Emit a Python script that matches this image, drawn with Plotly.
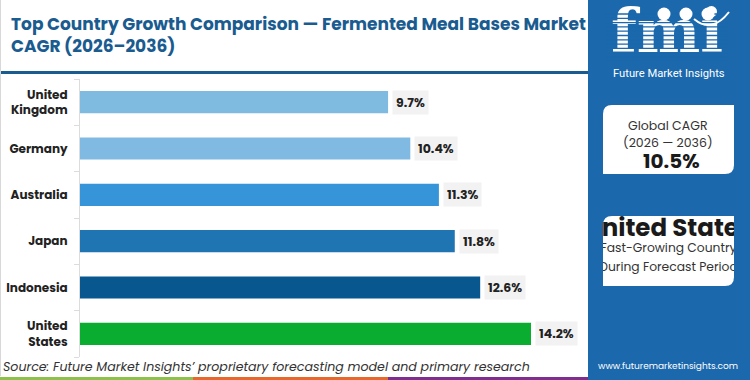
import plotly.graph_objects as go

# ---------------- data ----------------
countries = ["United Kingdom", "Germany", "Australia", "Japan", "Indonesia", "United States"]
tick_labels = ["United<br>Kingdom", "Germany", "Australia", "Japan", "Indonesia", "United<br>States"]
cagr = [9.7, 10.4, 11.3, 11.8, 12.6, 14.2]
bar_colors = ["#7fbbe1", "#80bae2", "#3595d8", "#1f75b2", "#09578f", "#0aad30"]

title_text = "Top Country Growth Comparison — Fermented Meal Bases Market<br>CAGR (2026–2036)"
source_text = "Source: Future Market Insights’ proprietary forecasting model and primary research"
global_cagr_label = ["Global CAGR", "(2026 — 2036)"]
global_cagr_value = "10.5%"
lead_country = "United States"
lead_caption = ["Fast-Growing Country", "During Forecast Period"]
brand = "Future Market Insights"
website = "www.futuremarketinsights.com"

W, H = 750, 380
PANEL = "#1b68ac"
TITLE_BLUE = "#1a5b90"
FONT = "Poppins, Inter, Open Sans, sans-serif"


def px(x):
    return x / W


def py(y):
    return 1 - y / H


fig = go.Figure()

fig.add_trace(go.Bar(
    x=cagr, y=countries, orientation="h",
    marker=dict(color=bar_colors, line=dict(width=0)),
    width=0.48, hoverinfo="skip", showlegend=False,
))

annotations = []
for c, v in zip(countries, cagr):
    annotations.append(dict(
        x=v, y=c, xref="x", yref="y", text=f"<b>{v}%</b>", showarrow=False,
        xanchor="left", yanchor="middle", xshift=4,
        font=dict(family=FONT, size=12.5, color="#222"),
        bgcolor="#f2f2f2", borderpad=3,
    ))

# title
annotations.append(dict(
    x=px(9), y=py(10), xref="paper", yref="paper", xanchor="left", yanchor="top",
    text=f"<b>{title_text}</b>", showarrow=False, align="left",
    font=dict(family=FONT, size=17, color=TITLE_BLUE),
))
# source
annotations.append(dict(
    x=px(1), y=py(366), xref="paper", yref="paper", xanchor="left", yanchor="middle",
    text=f"<i>{source_text}</i>", showarrow=False,
    font=dict(family=FONT, size=12.6, color="#333"),
))
# brand
annotations.append(dict(
    x=px(669), y=py(73), xref="paper", yref="paper", xanchor="center", yanchor="middle",
    text=brand, showarrow=False, font=dict(family="Roboto, sans-serif", size=11.2, color="white"),
))
annotations.append(dict(
    x=px(668), y=py(366), xref="paper", yref="paper", xanchor="center", yanchor="middle",
    text=website, showarrow=False, font=dict(family=FONT, size=9, color="white"),
))
# global CAGR box texts
annotations.append(dict(
    x=px(668), y=py(126), xref="paper", yref="paper", xanchor="center", yanchor="middle",
    text=global_cagr_label[0], showarrow=False, font=dict(family=FONT, size=12.5, color="#333"),
))
annotations.append(dict(
    x=px(668), y=py(143), xref="paper", yref="paper", xanchor="center", yanchor="middle",
    text=global_cagr_label[1], showarrow=False, font=dict(family=FONT, size=12.5, color="#333"),
))
annotations.append(dict(
    x=px(671), y=py(161), xref="paper", yref="paper", xanchor="center", yanchor="middle",
    text=f"<b>{global_cagr_value}</b>", showarrow=False, font=dict(family=FONT, size=20, color="#1a1a1a"),
))

# lead country box: clipped text via its own subplot
fig.add_trace(go.Scatter(
    x=[0.5, 0.5, 0.5], y=[230, 249, 268], mode="text",
    text=[f"<b>{lead_country}</b>", lead_caption[0], lead_caption[1]],
    textfont=dict(family=FONT, size=[24.5, 12.3, 12.3], color=["#1a1a1a", "#333", "#333"]),
    textposition="middle center", cliponaxis=True, hoverinfo="skip", showlegend=False,
    xaxis="x2", yaxis="y2",
))

# logo text in its own subplot so stripes can overlay it
fig.add_trace(go.Scatter(
    x=[0.5], y=[0.5], mode="text", text=["<b>fmi</b>"],
    textfont=dict(family="DejaVu Serif, serif", size=60, color="white"),
    textposition="middle center", cliponaxis=False, hoverinfo="skip", showlegend=False,
    xaxis="x3", yaxis="y3",
))

shapes = []
# panel
shapes.append(dict(type="rect", xref="paper", yref="paper", x0=px(588), x1=1, y0=0, y1=1,
                   fillcolor=PANEL, line=dict(width=0), layer="below"))
# title rule
shapes.append(dict(type="line", xref="paper", yref="paper", x0=0, x1=px(588), y0=py(72.5), y1=py(72.5),
                   line=dict(color=TITLE_BLUE, width=3), layer="below"))
# left border
shapes.append(dict(type="line", xref="paper", yref="paper", x0=px(0.5), x1=px(0.5), y0=py(376), y1=1,
                   line=dict(color="#d8d8d8", width=1), layer="below"))
# bottom strip
for x0, x1, col in [(0, 193, "#8dc24a"), (193, 388, "#e8672a"), (388, 588, "#7e2f8e")]:
    shapes.append(dict(type="rect", xref="paper", yref="paper", x0=px(x0), x1=px(x1), y0=0, y1=py(377),
                       fillcolor=col, line=dict(width=0), layer="below"))


def box_path(x0, y0, x1, y1, r):
    X0, X1 = px(x0), px(x1)
    Y0, Y1 = py(y0), py(y1)
    rx, ry = r / W, r / H
    # top-left and bottom-right rounded
    return (f"M {X0},{Y0 - ry} Q {X0},{Y0} {X0 + rx},{Y0} L {X1},{Y0} L {X1},{Y1 + ry} "
            f"Q {X1},{Y1} {X1 - rx},{Y1} L {X0},{Y1} Z")


shapes.append(dict(type="path", xref="paper", yref="paper", path=box_path(603, 105, 734, 174, 9),
                   fillcolor="white", line=dict(width=0), layer="below"))
shapes.append(dict(type="path", xref="paper", yref="paper", path=box_path(603, 216, 734, 286, 9),
                   fillcolor="white", line=dict(width=0), layer="below"))

# logo stripes
yy = 14.0
while yy < 64:
    shapes.append(dict(type="line", xref="paper", yref="paper", x0=px(606), x1=px(728), y0=py(yy), y1=py(yy),
                       line=dict(color=PANEL, width=1.3), layer="above"))
    yy += 4.3
# logo icons
for cx in [664, 686, 708]:
    shapes.append(dict(type="circle", xref="paper", yref="paper", x0=px(cx - 6.5), x1=px(cx + 6.5),
                       y0=py(20.5), y1=py(7.5), fillcolor="white", line=dict(width=0), layer="above"))
shapes.append(dict(type="path", xref="paper", yref="paper",
                   path=f"M {px(694)},{py(19)} Q {px(712)},{py(34)} {px(729)},{py(12)}",
                   line=dict(color="white", width=2), layer="above"))

fig.update_layout(
    width=W, height=H, autosize=False,
    margin=dict(l=0, r=0, t=0, b=0),
    paper_bgcolor="white", plot_bgcolor="rgba(0,0,0,0)",
    showlegend=False,
    xaxis=dict(domain=[px(80), px(585)], range=[0, 15.9], visible=False, fixedrange=True),
    yaxis=dict(domain=[py(357), py(79)], type="category", categoryorder="array",
               categoryarray=countries, autorange="reversed",
               tickvals=countries, ticktext=tick_labels,
               showline=True, linecolor="#dcdcdc", linewidth=1,
               ticks="outside", tickson="boundaries", ticklen=5, tickcolor="#dcdcdc",
               ticklabelstandoff=9,
               showgrid=False, zeroline=False,
               tickfont=dict(family=FONT, size=12, color="#222", weight="bold"),
               fixedrange=True),
    xaxis2=dict(domain=[px(603), px(734)], range=[0, 1], visible=False, fixedrange=True),
    yaxis2=dict(domain=[py(286), py(216)], range=[286, 216], visible=False, fixedrange=True),
    xaxis3=dict(domain=[px(606), px(728)], range=[0, 1], visible=False, fixedrange=True),
    yaxis3=dict(domain=[py(64), py(10)], range=[0, 1], visible=False, fixedrange=True),
    annotations=annotations,
    shapes=shapes,
)

fig.write_html("out.html", config={"displayModeBar": False},
               post_script="document.body.style.margin='0px';document.body.style.overflow='hidden';")
